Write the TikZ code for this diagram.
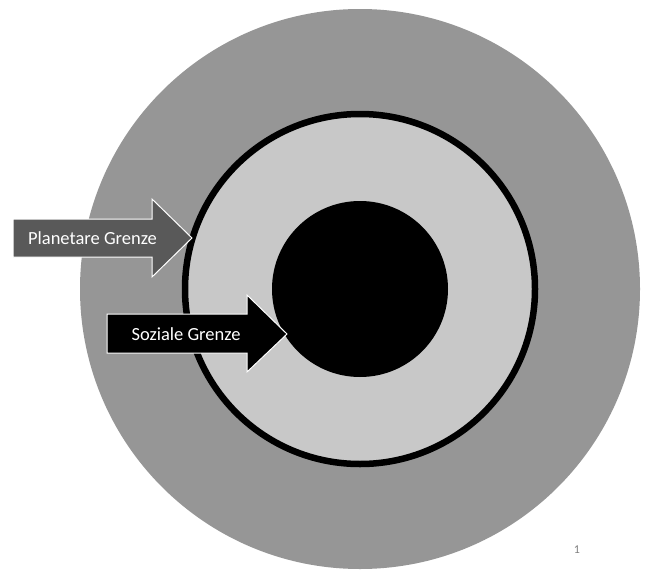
\documentclass[tikz,border=0pt]{standalone}
\usepackage{fontspec}
\setmainfont{Carlito}
\definecolor{outergray}{RGB}{150,150,150}
\definecolor{innergray}{RGB}{200,200,200}
\definecolor{arrowgray}{RGB}{89,89,89}
\tikzset{
  bigarrow/.style={draw=white, line width=1pt, line join=miter},
  arrowtext/.style={text=white, font=\fontsize{18.5}{20}\selectfont, inner sep=0pt},
}
\begin{document}
\begin{tikzpicture}[x=1pt,y=-1pt]
\useasboundingbox[fill=white] (0,0) rectangle (645,570);
% circles
\fill[outergray] (360,289) circle (280);
\draw[fill=innergray, line width=6.5pt] (360,289) circle (175);
\fill[black] (360,289) circle (88);
% Planetare Grenze arrow
\path[bigarrow, fill=arrowgray]
  (13,219) -- (152,219) -- (152,199) -- (192,238) -- (152,277) -- (152,257) -- (13,257) -- cycle;
\node[arrowtext] (planet) at (92.5,238) {Planetare Grenze};
% Soziale Grenze arrow
\path[bigarrow, fill=black]
  (107,314) -- (247,314) -- (247,295) -- (287,334) -- (247,372) -- (247,353) -- (107,353) -- cycle;
\node[arrowtext] (sozial) at (186,334) {Soziale Grenze};
% page number
\node[text=gray, font=\fontsize{12}{14}\selectfont, inner sep=0pt] (pagenum) at (577,550) {1};
\end{tikzpicture}
\end{document}
